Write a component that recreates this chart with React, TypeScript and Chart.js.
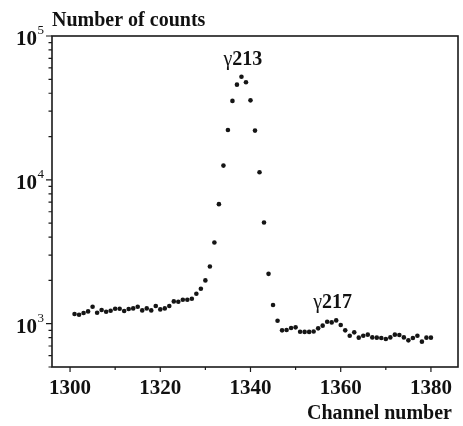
import { useEffect, useRef } from 'react';
import { Chart, registerables } from 'chart.js';

Chart.register(...registerables);

const FONT = '"Liberation Serif", "Times New Roman", serif';

const channels = [
  1301, 1302, 1303, 1304, 1305, 1306, 1307, 1308, 1309, 1310,
  1311, 1312, 1313, 1314, 1315, 1316, 1317, 1318, 1319, 1320,
  1321, 1322, 1323, 1324, 1325, 1326, 1327, 1328, 1329, 1330,
  1331, 1332, 1333, 1334, 1335, 1336, 1337, 1338, 1339, 1340,
  1341, 1342, 1343, 1344, 1345, 1346, 1347, 1348, 1349, 1350,
  1351, 1352, 1353, 1354, 1355, 1356, 1357, 1358, 1359, 1360,
  1361, 1362, 1363, 1364, 1365, 1366, 1367, 1368, 1369, 1370,
  1371, 1372, 1373, 1374, 1375, 1376, 1377, 1378, 1379, 1380,
];

const counts = [
  1168, 1155, 1186, 1218, 1313, 1192, 1245, 1211, 1231, 1271,
  1271, 1225, 1265, 1277, 1313, 1237, 1277, 1237, 1327, 1257,
  1277, 1327, 1429, 1422, 1468, 1468, 1492, 1615, 1750, 2000,
  2500, 3670, 6780, 12560, 22200, 35400, 45900, 52100, 47700, 35700,
  22000, 11300, 5050, 2220, 1348, 1049, 899, 903, 933, 943,
  880, 877, 877, 883, 928, 969, 1032, 1021, 1054, 979,
  899, 825, 871, 800, 825, 839, 803, 800, 795, 783,
  803, 839, 835, 803, 766, 795, 825, 750, 800, 800,
];

const xMajorTicks = [1300, 1320, 1340, 1360, 1380];
const xMinorTicks = [1310, 1330, 1350, 1370];
const yMajorTicks = [1000, 10000, 100000];
const yMajorExponents = ['3', '4', '5'];
const yMinorTicks = [
  500, 600, 700, 800, 900,
  2000, 3000, 4000, 5000, 6000, 7000, 8000, 9000,
  20000, 30000, 40000, 50000, 60000, 70000, 80000, 90000,
];

const yTitle = 'Number of counts';
const xTitle = 'Channel number';

const peakLabels = ['213', '217'];
const peakLabelChannels = [1338.3, 1358.2];
const peakLabelCounts = [63000, 1291];

const framePlugin = {
  id: 'frameAndLabels',
  afterDraw(chart: any) {
    const { ctx, chartArea: a, scales } = chart;
    const xs = scales.x;
    const ys = scales.y;
    ctx.save();
    ctx.strokeStyle = '#1a1a1a';
    ctx.lineWidth = 1.6;
    ctx.strokeRect(a.left, a.top, a.right - a.left, a.bottom - a.top);

    ctx.lineWidth = 1.2;
    ctx.beginPath();
    yMajorTicks.forEach((v) => {
      const py = ys.getPixelForValue(v);
      ctx.moveTo(a.left - 6, py);
      ctx.lineTo(a.left, py);
    });
    yMinorTicks.forEach((v) => {
      const py = ys.getPixelForValue(v);
      ctx.moveTo(a.left - 3.5, py);
      ctx.lineTo(a.left, py);
    });
    xMajorTicks.forEach((v) => {
      const px = xs.getPixelForValue(v);
      ctx.moveTo(px, a.bottom);
      ctx.lineTo(px, a.bottom + 5);
    });
    xMinorTicks.forEach((v) => {
      const px = xs.getPixelForValue(v);
      ctx.moveTo(px, a.bottom);
      ctx.lineTo(px, a.bottom + 3);
    });
    ctx.stroke();

    ctx.fillStyle = '#111';
    ctx.textBaseline = 'alphabetic';
    yMajorTicks.forEach((v, i) => {
      const py = ys.getPixelForValue(v);
      ctx.font = `bold 21px ${FONT}`;
      ctx.textAlign = 'right';
      ctx.fillText('10', 37, py + 9);
      ctx.font = `13px ${FONT}`;
      ctx.textAlign = 'left';
      ctx.fillText(yMajorExponents[i], 37.5, py - 2);
    });

    ctx.font = `bold 20px ${FONT}`;
    ctx.textAlign = 'left';
    ctx.fillText(yTitle, 52, 26);
    ctx.textAlign = 'right';
    ctx.fillText(xTitle, 452, 419);

    peakLabels.forEach((lab, i) => {
      const px = xs.getPixelForValue(peakLabelChannels[i]);
      const py = ys.getPixelForValue(peakLabelCounts[i]);
      ctx.font = `20px ${FONT}`;
      const gw = ctx.measureText('γ').width;
      ctx.font = `bold 20px ${FONT}`;
      const nw = ctx.measureText(lab).width;
      const x0 = px - (gw + nw) / 2;
      ctx.textAlign = 'left';
      ctx.font = `20px ${FONT}`;
      ctx.fillText('γ', x0, py);
      ctx.font = `bold 20px ${FONT}`;
      ctx.fillText(lab, x0 + gw, py);
    });
    ctx.restore();
  },
};

export default function App() {
  const ref = useRef<HTMLCanvasElement>(null);
  useEffect(() => {
    if (!ref.current) return;
    const chart = new Chart(ref.current, {
      type: 'scatter',
      data: {
        datasets: [
          {
            data: channels.map((c, i) => ({ x: c, y: counts[i] })),
            pointRadius: 2.3,
            pointBackgroundColor: '#151515',
            pointBorderWidth: 0,
            showLine: false,
          },
        ],
      },
      options: {
        responsive: false,
        animation: false,
        layout: { padding: { top: 36, right: 5, left: 0, bottom: 0 } },
        plugins: { legend: { display: false }, tooltip: { enabled: false } },
        scales: {
          x: {
            type: 'linear',
            min: 1296,
            max: 1386,
            grid: { display: false },
            border: { display: false },
            afterBuildTicks: (s: any) => {
              s.ticks = xMajorTicks.map((value) => ({ value }));
            },
            afterFit: (s: any) => {
              s.height = 59;
            },
            ticks: {
              autoSkip: false,
              maxRotation: 0,
              padding: 1,
              color: '#111',
              font: { family: FONT, size: 21, weight: 'bold' },
              callback: (v: any) => String(v),
            },
          },
          y: {
            type: 'logarithmic',
            min: 500,
            max: 100000,
            grid: { display: false },
            border: { display: false },
            ticks: { display: false },
            afterFit: (s: any) => {
              s.width = 52;
            },
          },
        },
      },
      plugins: [framePlugin],
    });
    return () => chart.destroy();
  }, []);
  return (
    <div style={{ position: 'absolute', left: 0, top: 0, width: 463, height: 426, background: '#fff' }}>
      <canvas ref={ref} width={463} height={426} style={{ display: 'block' }} />
    </div>
  );
}
